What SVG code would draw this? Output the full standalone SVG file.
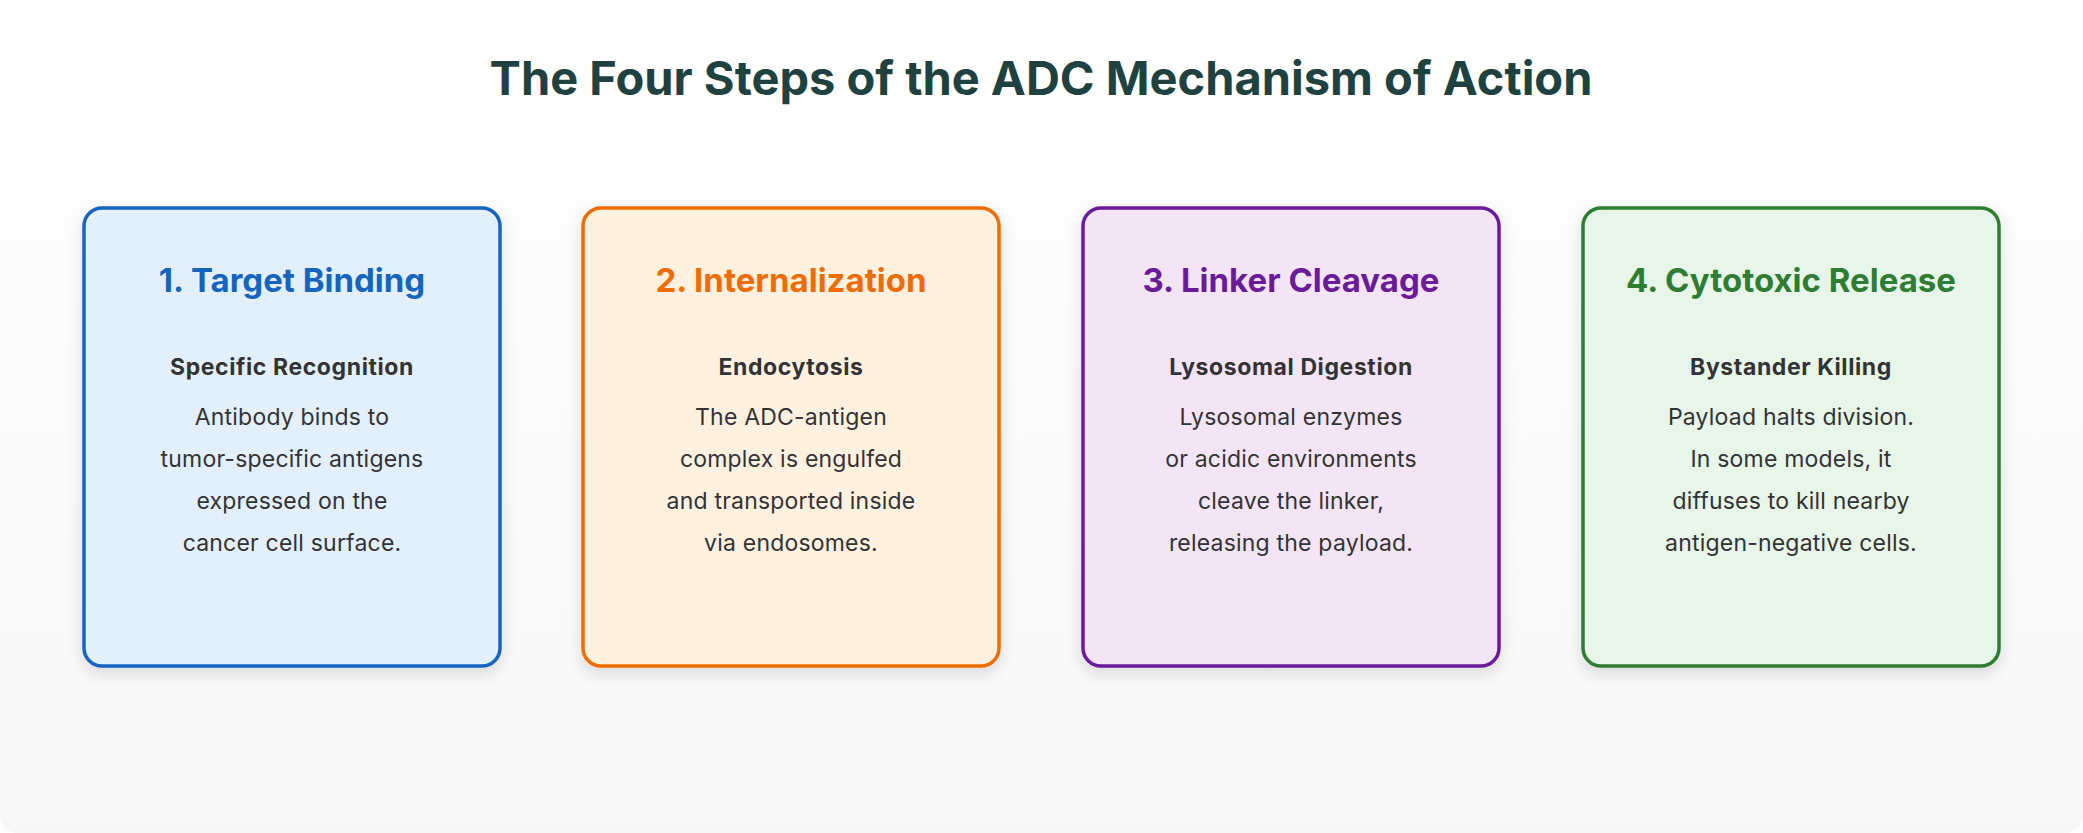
<svg xmlns="http://www.w3.org/2000/svg" width="2083" height="833" viewBox="0 0 2083 833">
<defs>
<linearGradient id="bg" x1="0" y1="0" x2="0" y2="1"><stop offset="0" stop-color="#ffffff"/><stop offset="1" stop-color="#f7f7f7"/></linearGradient>
<filter id="sh" x="-10%" y="-10%" width="120%" height="125%"><feDropShadow dx="0" dy="6" stdDeviation="8" flood-color="#000" flood-opacity="0.12"/></filter>
</defs>
<style>
text{font-family:Inter,"Noto Sans","Liberation Sans",sans-serif;text-anchor:middle}
.t{font-size:47px;font-weight:700;fill:#1f4240}
.h{font-size:33px;font-weight:700}
.s{font-size:23px;font-weight:700;fill:#333;letter-spacing:0.6px}
.b{font-size:23px;fill:#333;letter-spacing:0.2px}
.card{stroke-width:3.5;filter:url(#sh)}
</style>
<rect x="0" y="0" width="2083" height="833" rx="18" fill="url(#bg)"/>
<text class="t" x="1041" y="95">The Four Steps of the ADC Mechanism of Action</text>
<g id="connectors"/>
<g id="step1">
<rect class="card" x="84" y="208" width="416" height="458" rx="18" fill="#e3f0fc" stroke="#1565c0"/>
<text class="h" x="292" y="292" fill="#1565c0">1. Target Binding</text>
<text class="s" x="292" y="375">Specific Recognition</text>
<text class="b" x="292" y="425">Antibody binds to</text>
<text class="b" x="292" y="467">tumor-specific antigens</text>
<text class="b" x="292" y="509">expressed on the</text>
<text class="b" x="292" y="551">cancer cell surface.</text>
</g>
<g id="step2">
<rect class="card" x="583" y="208" width="416" height="458" rx="18" fill="#fff1e0" stroke="#ef6c00"/>
<text class="h" x="791" y="292" fill="#ef6c00">2. Internalization</text>
<text class="s" x="791" y="375">Endocytosis</text>
<text class="b" x="791" y="425">The ADC-antigen</text>
<text class="b" x="791" y="467">complex is engulfed</text>
<text class="b" x="791" y="509">and transported inside</text>
<text class="b" x="791" y="551">via endosomes.</text>
</g>
<g id="step3">
<rect class="card" x="1083" y="208" width="416" height="458" rx="18" fill="#f3e5f5" stroke="#6a1b9a"/>
<text class="h" x="1291" y="292" fill="#6a1b9a">3. Linker Cleavage</text>
<text class="s" x="1291" y="375">Lysosomal Digestion</text>
<text class="b" x="1291" y="425">Lysosomal enzymes</text>
<text class="b" x="1291" y="467">or acidic environments</text>
<text class="b" x="1291" y="509">cleave the linker,</text>
<text class="b" x="1291" y="551">releasing the payload.</text>
</g>
<g id="step4">
<rect class="card" x="1583" y="208" width="416" height="458" rx="18" fill="#e8f5e9" stroke="#2e7d32"/>
<text class="h" x="1791" y="292" fill="#2e7d32">4. Cytotoxic Release</text>
<text class="s" x="1791" y="375">Bystander Killing</text>
<text class="b" x="1791" y="425">Payload halts division.</text>
<text class="b" x="1791" y="467">In some models, it</text>
<text class="b" x="1791" y="509">diffuses to kill nearby</text>
<text class="b" x="1791" y="551">antigen-negative cells.</text>
</g>
</svg>
